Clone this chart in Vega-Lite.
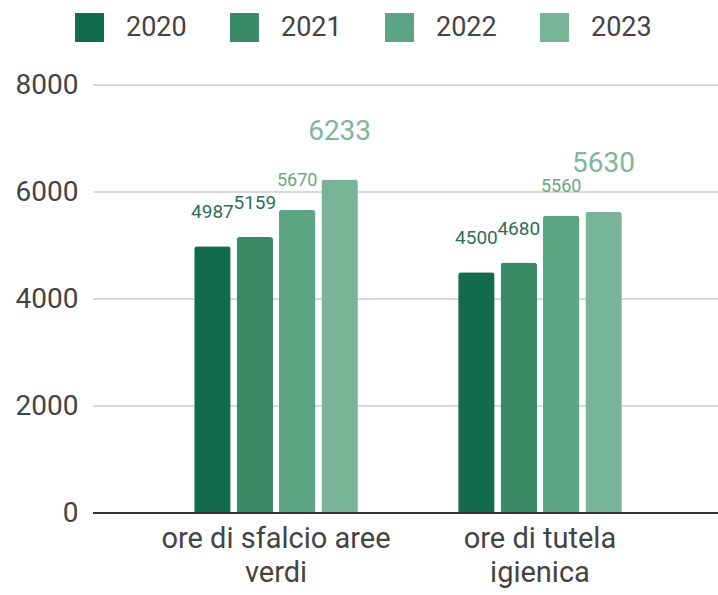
{
  "$schema": "https://vega.github.io/schema/vega-lite/v6.json",
  "width": 625,
  "height": 428,
  "autosize": {"type": "none"},
  "padding": {"left": 93, "top": 85, "right": 0, "bottom": 82},
  "background": "white",
  "config": {"view": {"stroke": null}, "font": "Roboto"},
  "datasets": {
    "grid": [{"v": 2000}, {"v": 4000}, {"v": 6000}, {"v": 8000}]
  },
  "data": {
    "values": [
      {"categoria": "ore di sfalcio aree verdi", "anno": "2020", "ore": 4987},
      {"categoria": "ore di sfalcio aree verdi", "anno": "2021", "ore": 5159},
      {"categoria": "ore di sfalcio aree verdi", "anno": "2022", "ore": 5670},
      {"categoria": "ore di sfalcio aree verdi", "anno": "2023", "ore": 6233},
      {"categoria": "ore di tutela igienica", "anno": "2020", "ore": 4500},
      {"categoria": "ore di tutela igienica", "anno": "2021", "ore": 4680},
      {"categoria": "ore di tutela igienica", "anno": "2022", "ore": 5560},
      {"categoria": "ore di tutela igienica", "anno": "2023", "ore": 5630}
    ]
  },
  "layer": [
    {
      "data": {"name": "grid"},
      "mark": {"type": "rule", "color": "#cccccc", "strokeWidth": 1.5},
      "encoding": {
        "y": {
          "field": "v",
          "type": "quantitative",
          "scale": {"domain": [0, 8000], "nice": false},
          "axis": {
            "title": null,
            "values": [0, 2000, 4000, 6000, 8000],
            "format": "d",
            "domain": false,
            "ticks": false,
            "grid": false,
            "labelFontSize": 28,
            "labelColor": "#444444",
            "labelPadding": 15
          }
        }
      }
    },
    {
      "encoding": {
        "x": {
          "field": "categoria",
          "type": "nominal",
          "sort": null,
          "scale": {"range": [22, 608], "paddingInner": 0.38, "paddingOuter": 0.3},
          "axis": {
            "title": null,
            "domain": false,
            "ticks": false,
            "grid": false,
            "labelAngle": 0,
            "labelFontSize": 29,
            "labelLineHeight": 34,
            "labelLimit": 400,
            "labelColor": "#444444",
            "labelPadding": 11,
            "labelExpr": "datum.value == 'ore di sfalcio aree verdi' ? ['ore di sfalcio aree', 'verdi'] : ['ore di tutela', 'igienica']"
          }
        },
        "xOffset": {
          "field": "anno",
          "type": "nominal",
          "scale": {"paddingInner": 0.14, "paddingOuter": 0}
        },
        "y": {
          "field": "ore",
          "type": "quantitative",
          "scale": {"domain": [0, 8000], "nice": false},
          "axis": {
            "title": null,
            "values": [0, 2000, 4000, 6000, 8000],
            "format": "d",
            "domain": false,
            "ticks": false,
            "grid": false,
            "labelFontSize": 28,
            "labelColor": "#444444",
            "labelPadding": 15
          }
        }
      },
      "layer": [
        {
          "mark": {"type": "bar", "cornerRadiusTopLeft": 3, "cornerRadiusTopRight": 3},
          "encoding": {
            "color": {
              "field": "anno",
              "type": "nominal",
              "scale": {
                "domain": ["2020", "2021", "2022", "2023"],
                "range": ["#126b4d", "#3a8a68", "#5ba584", "#78b598"]
              },
              "legend": {
                "title": null,
                "orient": "none",
                "direction": "horizontal",
                "legendX": -18,
                "legendY": -72,
                "symbolType": "square",
                "symbolSize": 841,
                "symbolStrokeWidth": 0,
                "symbolOpacity": 1,
                "labelFontSize": 27,
                "labelColor": "#444444",
                "labelOffset": 22,
                "columnPadding": 43
              }
            }
          }
        },
        {
          "transform": [{"filter": "datum.anno == '2020' || datum.anno == '2021'"}],
          "mark": {"type": "text", "baseline": "alphabetic", "dy": -28, "fontSize": 19},
          "encoding": {
            "text": {"field": "ore", "type": "quantitative", "format": "d"},
            "color": {"value": "#2e6e57"}
          }
        },
        {
          "transform": [{"filter": "datum.anno == '2022'"}],
          "mark": {"type": "text", "baseline": "alphabetic", "dy": -24, "fontSize": 18, "color": "#6aa58b"},
          "encoding": {
            "text": {"field": "ore", "type": "quantitative", "format": "d"}
          }
        },
        {
          "transform": [{"filter": "datum.anno == '2023'"}],
          "mark": {"type": "text", "baseline": "alphabetic", "dy": -40, "fontSize": 28, "color": "#7fb59c"},
          "encoding": {
            "text": {"field": "ore", "type": "quantitative", "format": "d"}
          }
        }
      ]
    },
    {
      "mark": {"type": "rule", "color": "#333333", "strokeWidth": 2},
      "encoding": {"y": {"datum": 0}}
    }
  ]
}
